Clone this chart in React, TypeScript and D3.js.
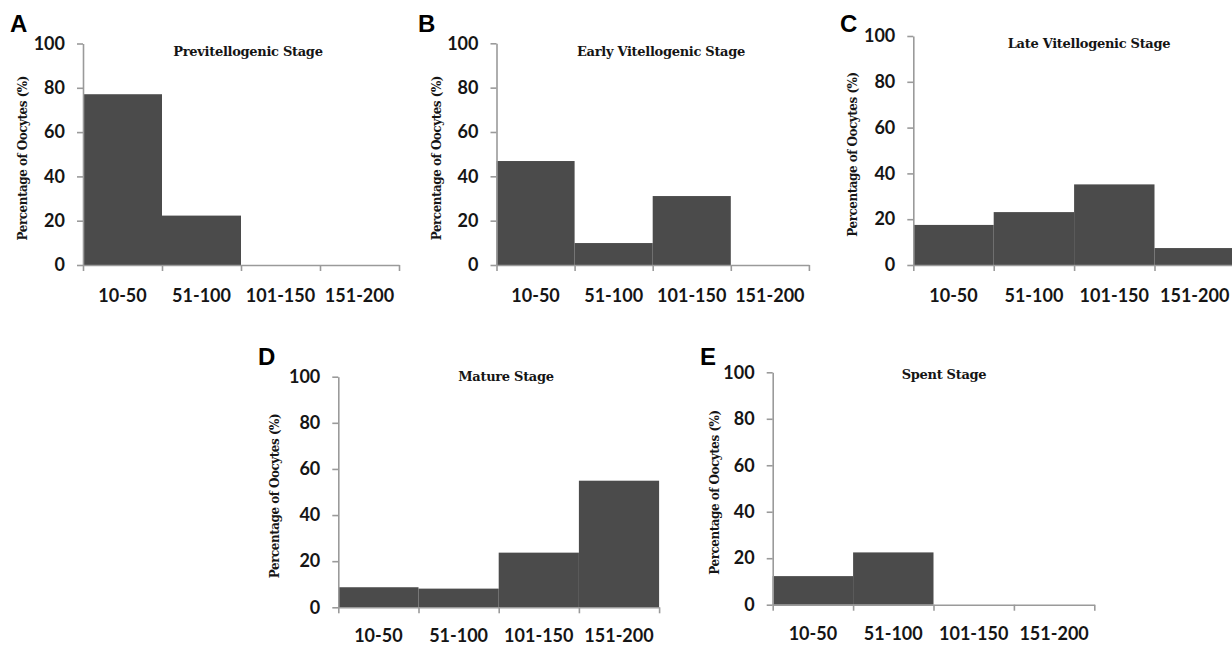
import { useEffect, useRef } from 'react'
import * as d3 from 'd3'

const sizeBins = ['10-50', '51-100', '101-150', '151-200']
const yTicks = [0, 20, 40, 60, 80, 100]

const previtellogenic = [77.1, 22.3, 0, 0]
const earlyVitellogenic = [46.9, 9.9, 31.1, 0]
const lateVitellogenic = [17.5, 23.1, 35.2, 7.4]
const mature = [8.7, 8.1, 23.7, 54.9]
const spent = [12.3, 22.5, 0, 0]

const panelLetters = ['A', 'B', 'C', 'D', 'E']
const panelTitles = [
  'Previtellogenic Stage',
  'Early Vitellogenic Stage',
  'Late Vitellogenic Stage',
  'Mature Stage',
  'Spent Stage',
]
const panelValues = [previtellogenic, earlyVitellogenic, lateVitellogenic, mature, spent]

// layout of each small chart in page pixels
const layout = [
  { x0: 83, bw: 79, top: 43.5, base: 265, tx: 248, ty: 56, lx: 10, ly: 32, yl: 23, lbl: 31 },
  { x0: 496.5, bw: 78.1, top: 43.3, base: 265, tx: 661, ty: 56, lx: 418, ly: 32, yl: 437, lbl: 31 },
  { x0: 913.3, bw: 80.4, top: 36, base: 265, tx: 1089, ty: 48, lx: 840, ly: 32, yl: 853, lbl: 31 },
  { x0: 338.3, bw: 80.2, top: 376.7, base: 607.3, tx: 506, ty: 381, lx: 258, ly: 365, yl: 275, lbl: 28 },
  { x0: 772.7, bw: 80.4, top: 372.3, base: 604.7, tx: 944, ty: 379, lx: 700, ly: 365, yl: 715, lbl: 29 },
]

const BAR = '#4b4b4b'
const AXIS = '#9a9a9a'
const INK = '#151515'
const SANS = 'Lato, "Open Sans", sans-serif'
const SERIF = '"DejaVu Serif", "Liberation Serif", serif'

export default function App() {
  const ref = useRef<SVGSVGElement | null>(null)

  useEffect(() => {
    if (!ref.current) return
    const svg = d3.select(ref.current)
    svg.selectAll('*').remove()

    panelValues.forEach((values, i) => {
      const L = layout[i]
      const g = svg.append('g')

      const x = d3
        .scaleBand<string>()
        .domain(sizeBins)
        .range([L.x0, L.x0 + L.bw * sizeBins.length])
        .paddingInner(0)
        .paddingOuter(0)
      const edges = d3
        .scaleLinear()
        .domain([0, sizeBins.length])
        .range([L.x0, L.x0 + L.bw * sizeBins.length])
      const y = d3.scaleLinear().domain([0, 100]).range([L.base, L.top])

      g.selectAll('rect.bar')
        .data(values.map((v, k) => ({ bin: sizeBins[k], v })))
        .join('rect')
        .attr('class', 'bar')
        .attr('x', (d) => x(d.bin) as number)
        .attr('width', x.bandwidth())
        .attr('y', (d) => y(d.v))
        .attr('height', (d) => L.base - y(d.v))
        .attr('fill', BAR)

      // y axis
      const ya = g
        .append('g')
        .attr('transform', `translate(${L.x0},0)`)
        .call(d3.axisLeft(y).tickValues(yTicks).tickSize(6).tickSizeOuter(0).tickPadding(12))
      ya.select('.domain').attr('stroke', AXIS).attr('stroke-width', 1.6)
      ya.selectAll('.tick line').attr('stroke', AXIS).attr('stroke-width', 1.6)
      ya.selectAll('.tick text')
        .attr('fill', INK)
        .style('font-family', SANS)
        .style('font-weight', 700)
        .style('font-size', '18px')

      // x axis with ticks on bin edges
      const xa = g
        .append('g')
        .attr('transform', `translate(0,${L.base})`)
        .call(
          d3
            .axisBottom(edges)
            .tickValues(d3.range(sizeBins.length + 1))
            .tickSize(6)
            .tickSizeOuter(0)
            .tickFormat(() => '')
        )
      xa.select('.domain').attr('stroke', AXIS).attr('stroke-width', 1.6)
      xa.selectAll('.tick line').attr('stroke', AXIS).attr('stroke-width', 1.6)

      g.selectAll('text.bin')
        .data(sizeBins)
        .join('text')
        .attr('class', 'bin')
        .attr('x', (d) => (x(d) as number) + x.bandwidth() / 2)
        .attr('y', L.base + L.lbl)
        .attr('dy', '0.35em')
        .attr('text-anchor', 'middle')
        .attr('fill', INK)
        .style('font-family', SANS)
        .style('font-weight', 700)
        .style('font-size', '18px')
        .text((d) => d)

      g.append('text')
        .attr('x', L.tx)
        .attr('y', L.ty)
        .attr('text-anchor', 'middle')
        .attr('fill', INK)
        .style('font-family', SERIF)
        .style('font-weight', 700)
        .style('font-size', '13px')
        .style('letter-spacing', '-0.3px')
        .text(panelTitles[i])

      g.append('text')
        .attr('transform', `translate(${L.yl},${(L.top + L.base) / 2 + 4}) rotate(-90)`)
        .attr('text-anchor', 'middle')
        .attr('dy', '0.35em')
        .attr('fill', INK)
        .style('font-family', SERIF)
        .style('font-weight', 700)
        .style('font-size', '12px')
        .style('letter-spacing', '-0.5px')
        .text('Percentage of Oocytes (%)')

      g.append('text')
        .attr('x', L.lx)
        .attr('y', L.ly)
        .attr('fill', '#000')
        .style('font-family', '"Liberation Sans", Arial, sans-serif')
        .style('font-weight', 700)
        .style('font-size', '24px')
        .text(panelLetters[i])
    })
  }, [])

  return (
    <svg
      ref={ref}
      width={1232}
      height={646}
      style={{ position: 'absolute', left: 0, top: 0, background: '#fff', display: 'block' }}
    />
  )
}
